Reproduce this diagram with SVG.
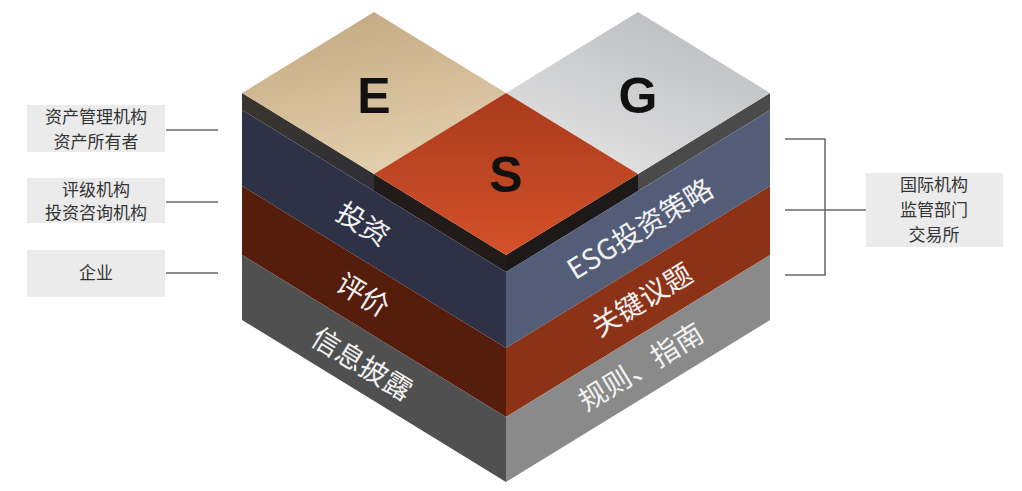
<svg xmlns="http://www.w3.org/2000/svg" width="1022" height="491" viewBox="0 0 1022 491">
<style>
.face{stroke:none}
.lbl{font-family:"Noto Sans CJK SC","Noto Sans",sans-serif;font-size:17px;fill:#333;text-anchor:middle}
.box{fill:#ebebeb}
.conn{stroke:#666;stroke-width:1.5;fill:none}
.ftxt{font-family:"Noto Sans CJK SC","Noto Sans",sans-serif;font-size:28px;fill:#f2f2f2;text-anchor:middle}
.letter{font-family:"Liberation Sans",Arial,sans-serif;font-size:50px;font-weight:bold;fill:#111;text-anchor:middle}
</style>
<defs>
<linearGradient id="gE" x1="0" y1="0" x2="0.3" y2="1">
<stop offset="0" stop-color="#c2a67e"/><stop offset="1" stop-color="#e1cdab"/>
</linearGradient>
<linearGradient id="gG" x1="0.8" y1="0" x2="0.2" y2="1">
<stop offset="0" stop-color="#b9bbbe"/><stop offset="1" stop-color="#e4e4e4"/>
</linearGradient>
<linearGradient id="gS" x1="0" y1="0" x2="0" y2="1">
<stop offset="0" stop-color="#a93b1c"/><stop offset="1" stop-color="#d4512a"/>
</linearGradient>
<linearGradient id="gEside" x1="0" y1="0" x2="0" y2="1">
<stop offset="0" stop-color="#3a352d"/><stop offset="1" stop-color="#2f2f36"/>
</linearGradient>
</defs>

<g id="block">
<g id="left-face">
<polygon class="face" fill="url(#gEside)" points="242,93 374,174 374,191 242,110"/>
<polygon class="face" fill="#221b19" points="374,174 506,255 506,272 374,191"/>
<polygon class="face" fill="#2e3246" points="242,110 374,191 506,272 506,348 242,186"/>
<polygon class="face" fill="#561d0d" points="242,186 506,348 506,417 242,255"/>
<polygon class="face" fill="#505050" points="242,255 506,417 506,482 242,320"/>
</g>
<g id="right-face">
<polygon class="face" fill="#1c1918" points="506,255 638,174 638,191 506,272"/>
<polygon class="face" fill="#4a4a4a" points="638,174 770,93 770,110 638,191"/>
<polygon class="face" fill="#535d78" points="506,272 638,191 770,110 770,186 506,348"/>
<polygon class="face" fill="#8c3217" points="506,348 770,186 770,255 506,417"/>
<polygon class="face" fill="#8a8a8a" points="506,417 770,255 770,320 506,482"/>
</g>
<g id="tile-E">
<polygon class="face" fill="url(#gE)" points="242,93 374,12 506,93 374,174"/>
<text class="letter" x="374" y="113">E</text>
</g>
<g id="tile-G">
<polygon class="face" fill="url(#gG)" points="506,93 638,12 770,93 638,174"/>
<text class="letter" x="638" y="113">G</text>
</g>
<g id="tile-S">
<polygon class="face" fill="url(#gS)" points="374,174 506,93 638,174 506,255"/>
<text class="letter" x="506" y="192">S</text>
</g>
<g id="face-labels">
<text class="ftxt" transform="translate(363,224) rotate(31.5)" y="10">投资</text>
<text class="ftxt" transform="translate(363,295) rotate(31.5)" y="10">评价</text>
<text class="ftxt" transform="translate(362,364) rotate(31.5)" y="10">信息披露</text>
<text class="ftxt" transform="translate(640,229) rotate(-31.5)" y="10">ESG投资策略</text>
<text class="ftxt" transform="translate(642,300) rotate(-31.5)" y="10" fill="#f6e8dc">关键议题</text>
<text class="ftxt" transform="translate(641,367) rotate(-31.5)" y="10">规则、指南</text>
</g>
</g>

<g id="node-asset">
<rect class="box" x="27" y="105" width="138" height="47"/>
<text class="lbl" x="96" y="123">资产管理机构</text>
<text class="lbl" x="96" y="148">资产所有者</text>
</g>
<g id="node-rating">
<rect class="box" x="27" y="178" width="138" height="45"/>
<text class="lbl" x="96" y="196">评级机构</text>
<text class="lbl" x="96" y="219">投资咨询机构</text>
</g>
<g id="node-company">
<rect class="box" x="27" y="250" width="138" height="47"/>
<text class="lbl" x="96" y="279">企业</text>
</g>
<g id="node-regulators">
<rect class="box" x="866" y="173" width="137" height="74"/>
<text class="lbl" x="934" y="191">国际机构</text>
<text class="lbl" x="934" y="216">监管部门</text>
<text class="lbl" x="934" y="241">交易所</text>
</g>

<g id="connectors">
<line class="conn" x1="166" y1="130" x2="218" y2="130"/>
<line class="conn" x1="166" y1="202" x2="218" y2="202"/>
<line class="conn" x1="166" y1="273" x2="218" y2="273"/>
<polyline class="conn" points="785,139 825,139 825,275 785,275"/>
<line class="conn" x1="785" y1="210" x2="866" y2="210"/>
</g>
</svg>
